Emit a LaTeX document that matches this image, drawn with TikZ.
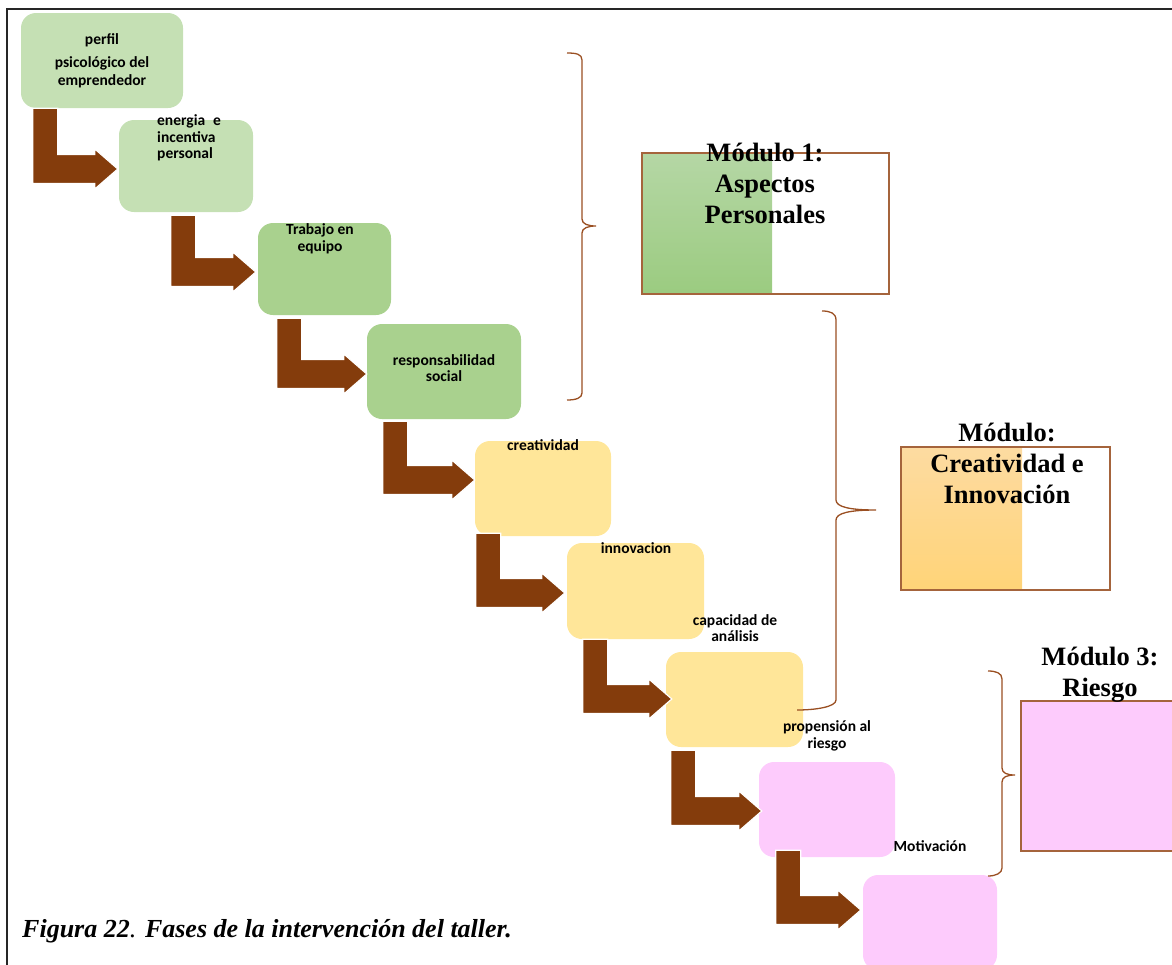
\documentclass[tikz,border=0pt]{standalone}
\usepackage{fontspec}
\setmainfont{Liberation Serif}
\newfontfamily\boxfont{Carlito}
\usetikzlibrary{calc}

\definecolor{greenlight}{HTML}{C5E0B4}
\definecolor{greenmid}{HTML}{A9D18E}
\definecolor{yellowbox}{HTML}{FFE699}
\definecolor{pinkbox}{HTML}{FDCBFC}
\definecolor{arrowbrown}{HTML}{843C0C}
\definecolor{bracebrown}{HTML}{9A4F22}
\definecolor{modborder}{HTML}{A5643C}
\definecolor{modgreentop}{HTML}{B5D7A5}
\definecolor{modgreenbot}{HTML}{9BCB80}
\definecolor{modorangetop}{HTML}{FDDBA1}
\definecolor{modorangebot}{HTML}{FFD478}

\tikzset{
  stagebox/.style={rounded corners=15pt, inner sep=0pt, draw=none},
  stagetext/.style={font=\boxfont\bfseries\fontsize{15.5}{16.5}\selectfont, align=center, inner sep=0pt},
  modtext/.style={font=\bfseries\fontsize{26.5}{31}\selectfont, align=center, inner sep=0pt},
  modframe/.style={draw=modborder, line width=1.4pt},
  bentarrow/.style={fill=arrowbrown, draw=white, line width=1.2pt, line join=miter},
  bracepath/.style={draw=bracebrown, line width=1.3pt}
}

% L-shaped block arrow: stem under #1, head pointing into #4
\newcommand\bentarrow[6]{%
  \path (#1.south west) ++(#2,#3) coordinate (#1s);
  \path (#4.west) ++(#5,#6) coordinate (#4t);
  \filldraw[bentarrow] let \p1=(#1s), \p2=(#4t) in
    (\x1,\y1) -- (\x1+25pt,\y1) -- (\x1+25pt,\y2+14.5pt)
    -- (\x2-23pt,\y2+14.5pt) -- (\x2-23pt,\y2+20pt) -- (\x2,\y2)
    -- (\x2-23pt,\y2-20pt) -- (\x2-23pt,\y2-14.5pt) -- (\x1,\y2-14.5pt) -- cycle;
}

\begin{document}
\begin{tikzpicture}[x=1pt,y=-1pt]
\useasboundingbox (0,0) rectangle (1172,964);

% outer frame (top and left sides)
\draw[line width=2.5pt, black!85] (1185,9) -- (7,9) -- (7,975);

% stage boxes
\node[stagebox, fill=greenlight, minimum width=162pt, minimum height=95pt] (b1) at (102,60.5) {};
\node[stagebox, fill=greenlight, minimum width=134pt, minimum height=92pt] (b2) at (186,166) {};
\node[stagebox, fill=greenmid,   minimum width=133pt, minimum height=92pt] (b3) at (324.5,269) {};
\node[stagebox, fill=greenmid,   minimum width=154pt, minimum height=95pt] (b4) at (444,371.5) {};
\node[stagebox, fill=yellowbox,  minimum width=136pt, minimum height=95pt] (b5) at (543,488.5) {};
\node[stagebox, fill=yellowbox,  minimum width=137pt, minimum height=96pt] (b6) at (635.5,591) {};
\node[stagebox, fill=yellowbox,  minimum width=137pt, minimum height=95pt] (b7) at (734.5,699.5) {};
\node[stagebox, fill=pinkbox,    minimum width=136pt, minimum height=95pt] (b8) at (827,809.5) {};
\node[stagebox, fill=pinkbox,    minimum width=134pt, minimum height=95pt] (b9) at (930,922.5) {};

% arrows between consecutive stages
\bentarrow{b1}{12}{0}{b2}{-1}{3}
\bentarrow{b2}{52}{3}{b3}{-2}{3}
\bentarrow{b3}{19}{3}{b4}{0}{2.5}
\bentarrow{b4}{16}{2}{b5}{0}{-8.5}
\bentarrow{b5}{1}{-3}{b6}{-2}{2}
\bentarrow{b6}{16}{0}{b7}{6}{-0.5}
\bentarrow{b7}{5}{3}{b8}{3}{1.5}
\bentarrow{b8}{17}{-7}{b9}{-2}{-12.5}

% stage labels
\node[stagetext] (t1a) at (102,40) {perfil};
\node[stagetext, font=\boxfont\bfseries\fontsize{15.5}{18}\selectfont] (t1b) at (102,72) {psicológico del\\emprendedor};
\node[stagetext, align=left, anchor=west] (t2) at (157,138) {energia\hspace{0.5em}e\\incentiva\\personal};
\node[stagetext] (t3) at (320,239) {Trabajo en\\equipo};
\node[stagetext] (t4) at (444,368) {responsabilidad\\social};
\node[stagetext] (t5) at (543,445) {creatividad};
\node[stagetext] (t6) at (636,548) {innovacion};
\node[stagetext] (t7) at (735,628) {capacidad de\\análisis};
\node[stagetext] (t8) at (827,736) {propensión al\\riesgo};
\node[stagetext] (t9) at (930,846) {Motivación};

% module boxes
\shade[top color=modgreentop, bottom color=modgreenbot] (642,153) rectangle (772,294);
\draw[modframe] (642,153) rectangle (889,294);
\shade[top color=modorangetop, bottom color=modorangebot] (901,447) rectangle (1022,590);
\draw[modframe] (901,447) rectangle (1110,590);
\filldraw[modframe, fill=pinkbox] (1021,701) rectangle (1190,851);

% module titles
\node[modtext] (m1) at (765,183) {Módulo 1:\\Aspectos\\Personales};
\node[modtext] (m2) at (1007,463) {Módulo:\\Creatividad e\\Innovación};
\node[modtext] (m3) at (1100,675) {Módulo 3:\\Riesgo};

% braces grouping the stages
\draw[bracepath] (567,53) .. controls (576,53) and (582,54) .. (582,60) -- (582,219)
  .. controls (582,224) and (588,226) .. (596,226)
  .. controls (588,226) and (582,228) .. (582,233) -- (582,393)
  .. controls (582,398) and (576,400) .. (567,400);
\draw[bracepath] (822,311) .. controls (830,311) and (836,313) .. (836,320) -- (836,500)
  .. controls (836,507) and (850,510) .. (876,510)
  .. controls (850,510) and (836,513) .. (836,520) -- (836,700)
  .. controls (836,707) and (815,710) .. (797,710);
\draw[bracepath] (988,671) .. controls (996,671) and (1002,673) .. (1002,679) -- (1002,768)
  .. controls (1002,773) and (1007,775) .. (1015,775)
  .. controls (1007,775) and (1002,777) .. (1002,782) -- (1002,868)
  .. controls (1002,873) and (996,876) .. (988,876);

% caption
\node[anchor=base west, inner sep=0pt, font=\fontsize{26}{30}\selectfont] (cap) at (22,937)
  {\textbf{\textit{Figura 22}}\textit{.} \textbf{\textit{Fases de la intervención del taller.}}};
\end{tikzpicture}
\end{document}
